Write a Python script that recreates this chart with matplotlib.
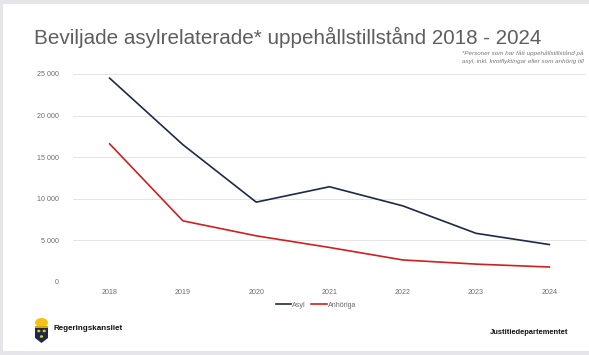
import numpy as np
import matplotlib
matplotlib.use("Agg")
import matplotlib.pyplot as plt
from matplotlib.patches import Rectangle, Polygon, Ellipse

plt.rcParams['font.family'] = ['Liberation Sans', 'DejaVu Sans']

# data
years = ["2018", "2019", "2020", "2021", "2022", "2023", "2024"]
asyl = [24500, 16500, 9600, 11450, 9150, 5850, 4500]
anhoriga = [16600, 7350, 5550, 4150, 2650, 2150, 1800]
y_ticks = [0, 5000, 10000, 15000, 20000, 25000]

W, H = 589, 355
fig = plt.figure(figsize=(W / 100, H / 100), dpi=100, facecolor="#e6e6ea")

def fx(px):
    return px / W

def fy(py):
    return 1 - py / H

# white slide background inside the screenshot frame
fig.patches.append(Rectangle((fx(3), fy(351)), 1, fy(4) - fy(351),
                             transform=fig.transFigure, facecolor="white",
                             edgecolor="none", zorder=-5))

ax = fig.add_axes([fx(73), fy(282), fx(586) - fx(73), fy(74) - fy(282)])
ax.set_facecolor("none")
ax.set_zorder(2)

x = np.arange(len(years))
ax.plot(x, asyl, color="#1c2a48", lw=1.2, label="Asyl", zorder=3)
ax.plot(x, anhoriga, color="#d01f1f", lw=1.2, label="Anhöriga", zorder=3)

ax.set_xlim(-0.5, len(years) - 0.5)
ax.set_ylim(0, 25000)
ax.set_xticks(x)
ax.set_xticklabels(years)
ax.set_yticks(y_ticks)
ax.set_yticklabels([f"{v:,}".replace(",", " ") for v in y_ticks])
ax.tick_params(axis="both", length=0, labelsize=5.1, labelcolor="#6b6b6b")
ax.tick_params(axis="y", pad=10)
ax.tick_params(axis="x", pad=5)
ax.grid(axis="y", color="#e4e4e4", lw=0.7)
for s in ax.spines.values():
    s.set_visible(False)

leg = ax.legend(loc="upper center", ncol=2, frameon=False, fontsize=5.1,
                handlelength=2.2, handletextpad=0.1, columnspacing=0.8,
                borderaxespad=0)
leg.set_bbox_to_anchor((fx(316), fy(299)), transform=fig.transFigure)
for t in leg.get_texts():
    t.set_color("#6b6b6b")

# title and footnote
fig.text(fx(34), fy(37), "Beviljade asylrelaterade* uppehållstillstånd 2018 - 2024",
         fontsize=14.9, color="#5e5e5e", va="center", ha="left")
fig.text(fx(462), fy(53), "*Personer som har fått uppehållstillstånd på",
         fontsize=4.5, style="italic", color="#777777", va="center", ha="left")
fig.text(fx(462), fy(61), "asyl, inkl. kvotflyktingar eller som anhörig till",
         fontsize=4.5, style="italic", color="#777777", va="center", ha="left")

# footer
fig.text(fx(53), fy(328), "Regeringskansliet", fontsize=5.8, fontweight="bold",
         color="#111111", va="center", ha="left")
fig.text(fx(568), fy(332), "Justitiedepartementet", fontsize=5.4, fontweight="bold",
         color="#111111", va="center", ha="right")

# small crown + shield logo
gold = "#f2c418"
navy = "#1c2a48"
shield = [(35, 327), (48, 327), (48, 338), (41.5, 343), (35, 338)]
fig.patches.append(Polygon([(fx(a), fy(b)) for a, b in shield], closed=True,
                           transform=fig.transFigure, facecolor=navy, edgecolor="none"))
fig.patches.append(Ellipse((fx(41.5), fy(322.5)), fx(13) - fx(0), fy(0) - fy(9),
                           transform=fig.transFigure, facecolor=gold, edgecolor="none"))
fig.patches.append(Rectangle((fx(35), fy(327.5)), fx(13), fy(0) - fy(2),
                             transform=fig.transFigure, facecolor="#d8a90f", edgecolor="none"))
for cx, cy in [(38.8, 331), (44.2, 331), (41.5, 336.5)]:
    fig.patches.append(Ellipse((fx(cx), fy(cy)), fx(3.2), fy(0) - fy(2.6),
                               transform=fig.transFigure, facecolor=gold, edgecolor="none"))

fig.savefig("out.png", dpi=100, facecolor=fig.get_facecolor())
